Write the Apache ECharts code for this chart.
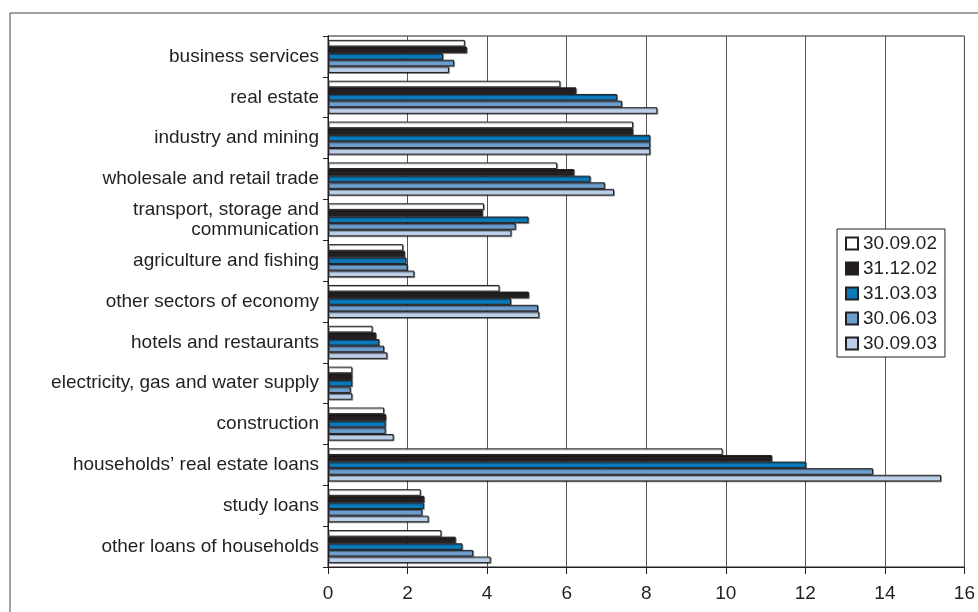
<!DOCTYPE html>
<html>
<head>
<meta charset="utf-8">
<script src="https://cdn.jsdelivr.net/npm/echarts@6/dist/echarts.min.js"></script>
<style>html,body{margin:0;padding:0;background:#fff}#c{width:978px;height:612px}</style>
</head>
<body>
<div id="c"></div>
<script>
const categories = [
  "business services",
  "real estate",
  "industry and mining",
  "wholesale and retail trade",
  "transport, storage and\ncommunication",
  "agriculture and fishing",
  "other sectors of economy",
  "hotels and restaurants",
  "electricity, gas and water supply",
  "construction",
  "households\u2019 real estate loans",
  "study loans",
  "other loans of households"
];
const seriesNames = ["30.09.02", "31.12.02", "31.03.03", "30.06.03", "30.09.03"];
const s300902 = [3.44, 5.84, 7.67, 5.76, 3.92, 1.89, 4.31, 1.12, 0.61, 1.41, 9.92, 2.33, 2.85];
const s311202 = [3.49, 6.24, 7.67, 6.19, 3.89, 1.93, 5.05, 1.21, 0.61, 1.46, 11.16, 2.42, 3.21];
const s310303 = [2.89, 7.27, 8.10, 6.60, 5.04, 1.97, 4.60, 1.29, 0.61, 1.45, 12.02, 2.41, 3.38];
const s300603 = [3.17, 7.39, 8.10, 6.96, 4.72, 2.00, 5.28, 1.41, 0.57, 1.45, 13.70, 2.37, 3.65];
const s300903 = [3.04, 8.28, 8.10, 7.19, 4.61, 2.17, 5.31, 1.49, 0.61, 1.65, 15.41, 2.53, 4.09];
const xTicks = [0, 2, 4, 6, 8, 10, 12, 14, 16];

const allData = [s300902, s311202, s310303, s300603, s300903];
const colors = ["#ffffff", "#231f20", "#0b78b8", "#6c9dcc", "#bccfe8"];
const FONT = "'Liberation Sans', Arial, sans-serif";
const chart = echarts.init(document.getElementById('c'), null, {renderer: 'canvas'});
chart.setOption({
  animation: false,
  backgroundColor: '#fff',
  textStyle: {fontFamily: FONT},
  graphic: [{
    type: 'rect', left: 7.5, top: 10.5, silent: true, z: -1,
    shape: {width: 1200, height: 800},
    style: {fill: 'none', stroke: '#444', lineWidth: 1}
  }],
  grid: {left: 328, right: 9, top: 36, bottom: 45, show: true, borderColor: '#231f20', borderWidth: 1, backgroundColor: 'transparent'},
  legend: {
    orient: 'vertical', left: 837, top: 229,
    data: seriesNames.map(n => ({name: n, icon: 'rect'})),
    backgroundColor: '#fff', borderColor: '#231f20', borderWidth: 1,
    padding: [5, 8, 4, 8],
    itemWidth: 12, itemHeight: 12, itemGap: 6, itemTextGap: 4,
    textStyle: {fontSize: 19, lineHeight: 19, color: '#231f20', fontFamily: FONT}
  },
  xAxis: {
    type: 'value', min: 0, max: 16, interval: 2,
    axisLine: {show: true, lineStyle: {color: '#231f20', width: 1}},
    axisTick: {show: true, length: 7, lineStyle: {color: '#231f20'}},
    axisLabel: {fontSize: 19, color: '#231f20', margin: 17, fontFamily: FONT,
      formatter: v => xTicks.includes(v) ? String(v) : ''},
    splitLine: {show: true, lineStyle: {color: '#555', width: 1}}
  },
  yAxis: {
    type: 'category', data: categories, inverse: true,
    axisLine: {show: true, lineStyle: {color: '#231f20', width: 1}},
    axisTick: {show: true, length: 5, lineStyle: {color: '#231f20'}},
    axisLabel: {fontSize: 19, lineHeight: 20, color: '#231f20', margin: 9, fontFamily: FONT},
    splitLine: {show: false}
  },
  series: seriesNames.map((n, i) => ({
    name: n, type: 'bar', data: allData[i],
    barGap: '0%', barCategoryGap: '19%',
    itemStyle: {color: colors[i], borderColor: '#231f20', borderWidth: 1,
      shadowColor: 'rgba(0,0,0,0.35)', shadowOffsetX: 1, shadowOffsetY: 1, shadowBlur: 0}
  }))
});
</script>
</body>
</html>
